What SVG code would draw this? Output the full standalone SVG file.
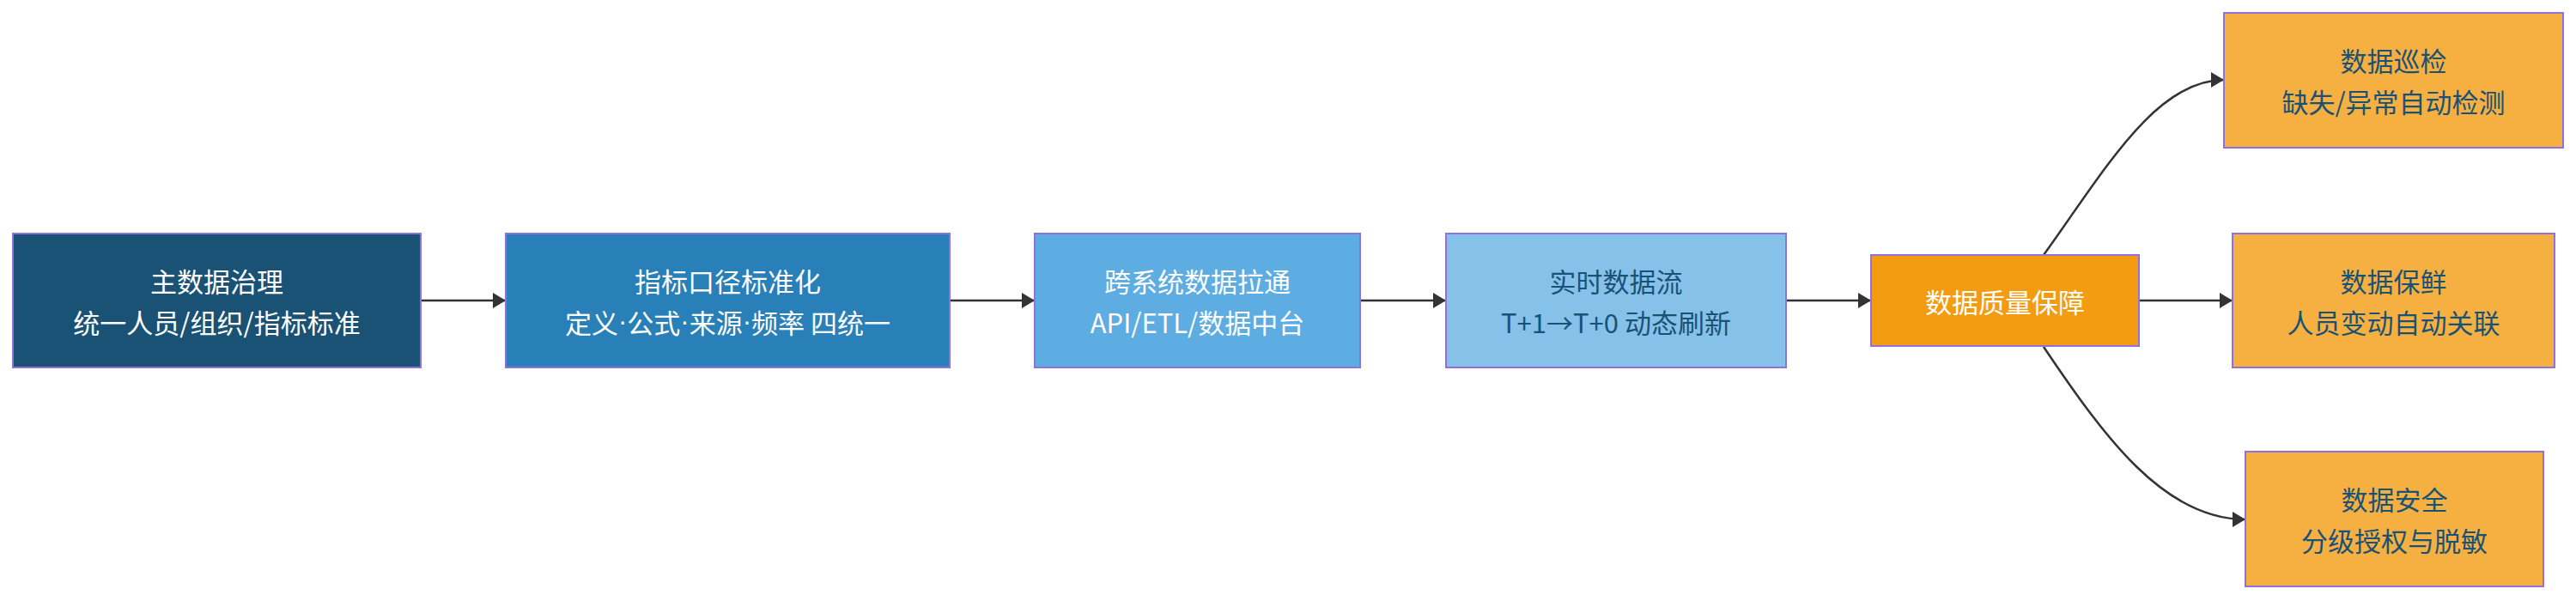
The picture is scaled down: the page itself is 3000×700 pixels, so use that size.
<svg xmlns="http://www.w3.org/2000/svg" width="3000" height="700" viewBox="0 0 3000 700">
<defs>
<style>
.node rect{stroke:#9370DB;stroke-width:2}
.t{font-family:"Noto Sans CJK SC","Liberation Sans",sans-serif;font-size:31px;text-anchor:middle;dominant-baseline:central}
.dot{font-family:"Liberation Sans","Noto Sans CJK SC",sans-serif}
.w{fill:#ffffff}
.d{fill:#1a5276}
.edge{fill:none;stroke:#333333;stroke-width:2.5}
</style>
<marker id="arr" markerWidth="16" markerHeight="18" refX="15" refY="9" orient="auto" markerUnits="userSpaceOnUse">
<path d="M0,0 L15,9 L0,18 z" fill="#333333"/>
</marker>
</defs>
<rect width="3000" height="700" fill="#ffffff"/>
<g id="connectors">
<path class="edge" d="M490,350 L589,350" marker-end="url(#arr)"/>
<path class="edge" d="M1106,350 L1205,350" marker-end="url(#arr)"/>
<path class="edge" d="M1584,350 L1684,350" marker-end="url(#arr)"/>
<path class="edge" d="M2080,350 L2179,350" marker-end="url(#arr)"/>
<path class="edge" d="M2491,350 L2600,350" marker-end="url(#arr)"/>
<path class="edge" d="M2380,297 C2450,200 2510,93 2590,93" marker-end="url(#arr)"/>
<path class="edge" d="M2380,404 C2450,508 2520,605 2615,605" marker-end="url(#arr)"/>
</g>
<g id="n1" class="node"><rect x="15" y="272" width="475" height="156" fill="#1a5276"/>
<text class="t w" x="252.5" y="326">主数据治理</text><text class="t w" x="252.5" y="374">统一人员/组织/指标标准</text></g>
<g id="n2" class="node"><rect x="589" y="272" width="517" height="156" fill="#2980b9"/>
<text class="t w" x="847.5" y="326">指标口径标准化</text><text class="t w" x="847.5" y="374">定义<tspan class="dot">·</tspan>公式<tspan class="dot">·</tspan>来源<tspan class="dot">·</tspan>频率 四统一</text></g>
<g id="n3" class="node"><rect x="1205" y="272" width="379" height="156" fill="#5dade2"/>
<text class="t w" x="1394.5" y="326">跨系统数据拉通</text><text class="t w" x="1394.5" y="374">API/ETL/数据中台</text></g>
<g id="n4" class="node"><rect x="1684" y="272" width="396" height="156" fill="#85c1e9"/>
<text class="t d" x="1882" y="326">实时数据流</text><text class="t d" x="1882" y="374">T+1→T+0 动态刷新</text></g>
<g id="n5" class="node"><rect x="2179" y="297" width="312" height="106" fill="#f39c12"/>
<text class="t w" x="2335" y="350">数据质量保障</text></g>
<g id="n6" class="node"><rect x="2590" y="15" width="395" height="157" fill="#f5b041"/>
<text class="t d" x="2787.5" y="69.5">数据巡检</text><text class="t d" x="2787.5" y="117.5">缺失/异常自动检测</text></g>
<g id="n7" class="node"><rect x="2600" y="272" width="375" height="156" fill="#f5b041"/>
<text class="t d" x="2787.5" y="326">数据保鲜</text><text class="t d" x="2787.5" y="374">人员变动自动关联</text></g>
<g id="n8" class="node"><rect x="2615" y="526" width="347" height="157" fill="#f5b041"/>
<text class="t d" x="2788.5" y="580.5">数据安全</text><text class="t d" x="2788.5" y="628.5">分级授权与脱敏</text></g>
</svg>
